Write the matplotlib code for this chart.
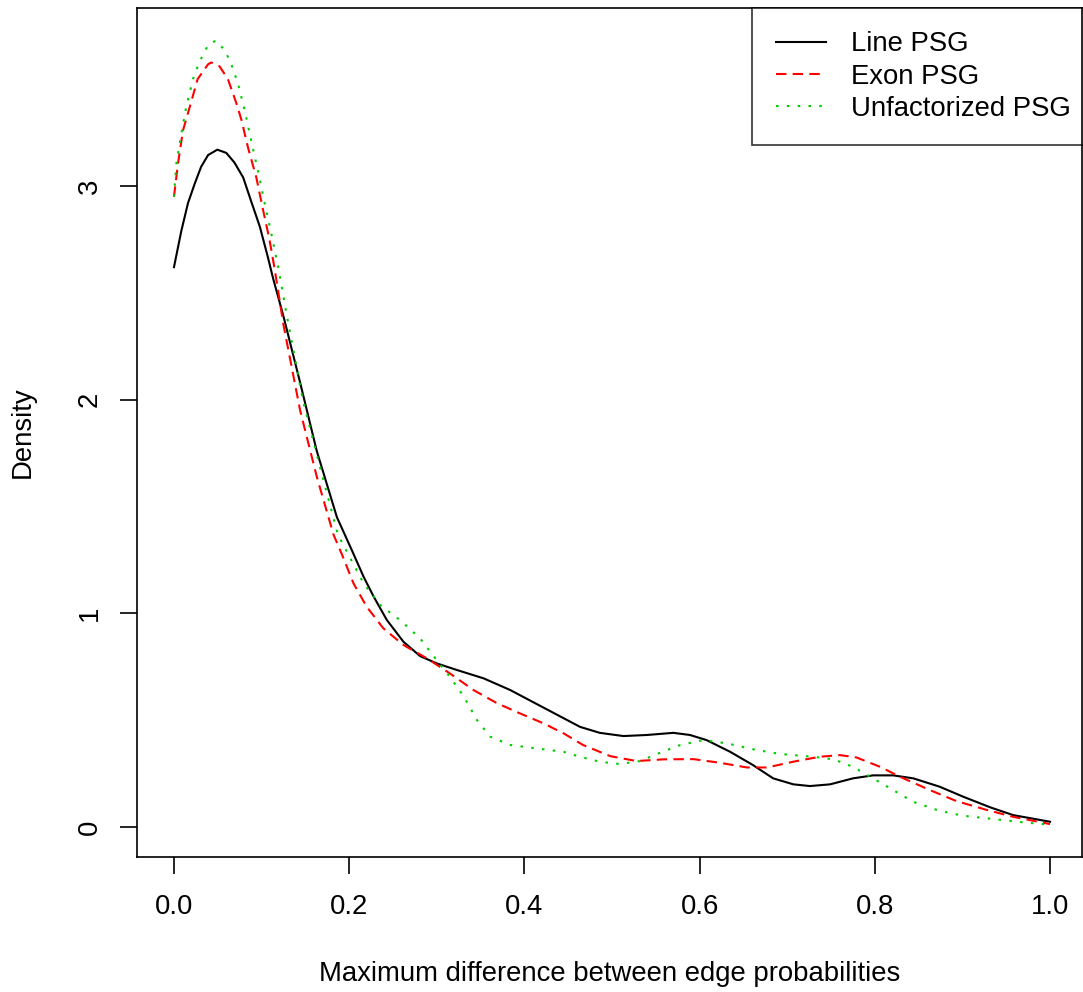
import matplotlib
matplotlib.use("Agg")
import matplotlib.pyplot as plt

plt.rcParams['font.family'] = ['Liberation Sans', 'DejaVu Sans']

# density curves
line_x = [0.0, 0.0084, 0.016, 0.0236, 0.031, 0.039, 0.0495, 0.0597, 0.069, 0.079,
          0.088, 0.098, 0.107, 0.113, 0.125, 0.144, 0.163, 0.186, 0.203, 0.2165,
          0.228, 0.243, 0.262, 0.281, 0.300, 0.323, 0.3535, 0.384, 0.414, 0.445,
          0.4635, 0.486, 0.513, 0.540, 0.570, 0.589, 0.608, 0.635, 0.661, 0.684,
          0.707, 0.726, 0.749, 0.775, 0.798, 0.821, 0.844, 0.874, 0.901, 0.932,
          0.958, 1.0]
line_y = [2.62, 2.79, 2.92, 3.01, 3.09, 3.145, 3.17, 3.155, 3.11, 3.04,
          2.93, 2.81, 2.67, 2.57, 2.39, 2.08, 1.76, 1.45, 1.296, 1.171,
          1.078, 0.969, 0.867, 0.80, 0.766, 0.735, 0.696, 0.641, 0.576, 0.509,
          0.469, 0.441, 0.426, 0.431, 0.441, 0.431, 0.407, 0.352, 0.29, 0.228,
          0.20, 0.192, 0.20, 0.228, 0.242, 0.242, 0.228, 0.189, 0.142, 0.092,
          0.056, 0.025]

exon_x = [0.0, 0.0046, 0.0103, 0.018, 0.027, 0.039, 0.0426, 0.052, 0.0616, 0.071,
          0.077, 0.0845, 0.094, 0.1016, 0.109, 0.115, 0.125, 0.144, 0.163, 0.182,
          0.192, 0.205, 0.220, 0.239, 0.262, 0.289, 0.315, 0.342, 0.369, 0.395,
          0.422, 0.445, 0.467, 0.498, 0.528, 0.559, 0.593, 0.623, 0.654, 0.677,
          0.707, 0.737, 0.760, 0.779, 0.806, 0.829, 0.863, 0.893, 0.928, 0.958, 1.0]
exon_y = [2.95, 3.105, 3.26, 3.37, 3.50, 3.57, 3.578, 3.56, 3.50, 3.39,
          3.31, 3.18, 3.04, 2.89, 2.75, 2.61, 2.35, 1.95, 1.64, 1.37,
          1.273, 1.14, 1.031, 0.93, 0.852, 0.789, 0.719, 0.641, 0.579, 0.532,
          0.485, 0.438, 0.384, 0.332, 0.309, 0.317, 0.318, 0.301, 0.279, 0.279,
          0.306, 0.329, 0.337, 0.326, 0.282, 0.235, 0.173, 0.122, 0.080, 0.048, 0.014]

unfac_x = [0.0, 0.0027, 0.0084, 0.014, 0.0217, 0.029, 0.039, 0.0476, 0.058, 0.0655,
           0.073, 0.0807, 0.088, 0.0959, 0.1035, 0.111, 0.119, 0.129, 0.147, 0.167,
           0.187, 0.1975, 0.2165, 0.2355, 0.258, 0.281, 0.300, 0.315, 0.331, 0.346,
           0.361, 0.384, 0.414, 0.445, 0.4635, 0.486, 0.509, 0.532, 0.555, 0.578,
           0.604, 0.631, 0.661, 0.692, 0.730, 0.753, 0.775, 0.798, 0.821, 0.844,
           0.874, 0.901, 0.939, 0.970, 1.0]
unfac_y = [2.95, 3.105, 3.245, 3.37, 3.50, 3.58, 3.66, 3.68, 3.636, 3.57,
           3.48, 3.355, 3.215, 3.07, 2.92, 2.78, 2.62, 2.39, 2.00, 1.68,
           1.37, 1.288, 1.14, 1.039, 0.969, 0.883, 0.781, 0.703, 0.61, 0.50,
           0.423, 0.384, 0.368, 0.352, 0.329, 0.306, 0.295, 0.309, 0.348, 0.384,
           0.407, 0.392, 0.364, 0.342, 0.329, 0.317, 0.282, 0.228, 0.173, 0.118,
           0.076, 0.053, 0.036, 0.022, 0.011]

x_ticks = [0.0, 0.2, 0.4, 0.6, 0.8, 1.0]
y_ticks = [0, 1, 2, 3]

FS = 19.8

fig = plt.figure(figsize=(10.83, 9.92), dpi=100)
ax = fig.add_axes([137 / 1083, 1 - 857 / 992, 945 / 1083, 849 / 992])

ax.plot(line_x, line_y, color='black', lw=1.5, label='Line PSG')
ax.plot(exon_x, exon_y, color='#FF0000', lw=1.5, linestyle=(0, (5, 3)), label='Exon PSG')
ax.plot(unfac_x, unfac_y, color='#00CD00', lw=1.5, linestyle=(0, (1.2, 4)),
        label='Unfactorized PSG')

ax.set_xlim(-0.0422, 1.0365)
ax.set_ylim(-0.140, 3.833)

ax.set_xticks(x_ticks)
ax.set_xticklabels(['%.1f' % v for v in x_ticks])
ax.set_yticks(y_ticks)
ax.set_yticklabels([str(v) for v in y_ticks], rotation=90, va='center')
ax.tick_params(axis='both', direction='out', length=12.5, width=1.2, labelsize=FS)
ax.tick_params(axis='x', pad=14)
ax.tick_params(axis='y', pad=12)
for s in ax.spines.values():
    s.set_linewidth(1.2)
ax.spines['right'].set_zorder(10)

ax.set_xlabel('Maximum difference between edge probabilities', fontsize=FS, labelpad=30)
ax.set_ylabel('Density', fontsize=FS, labelpad=30)

# legend box runs past the right edge, like the R original
leg = ax.legend(loc='upper right', bbox_to_anchor=(1.0127, 1.0), fontsize=FS,
                frameon=True, fancybox=False, borderaxespad=0,
                handlelength=1.82, handletextpad=0.91,
                borderpad=0.85, labelspacing=0.23)
leg.get_frame().set_edgecolor('black')
leg.get_frame().set_linewidth(1.2)
leg.set_zorder(5)

fig.savefig('out.png', dpi=100)
